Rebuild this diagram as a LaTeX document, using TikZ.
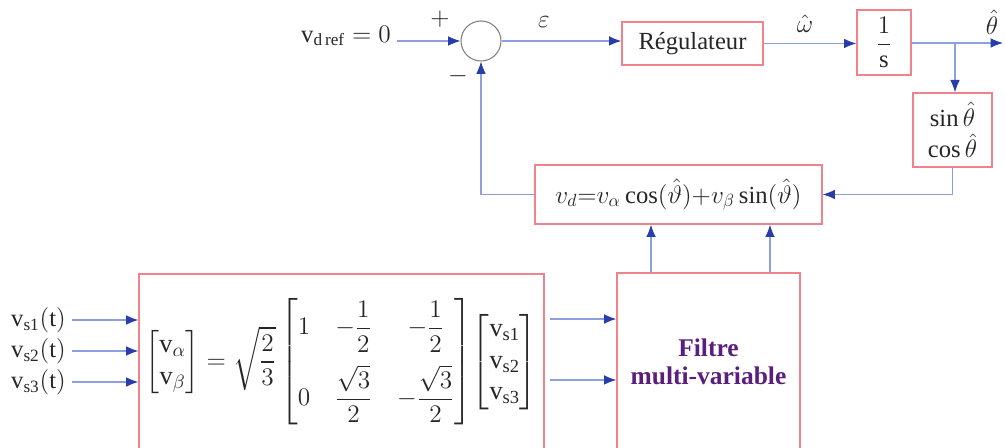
\documentclass[tikz,border=0pt]{standalone}
\usepackage{amsmath,amssymb}
\usepackage{fontspec}
\setmainfont{Liberation Serif}
\usepackage{tikz}
\usetikzlibrary{positioning, arrows.meta, calc}

\definecolor{boxred}{RGB}{240,130,140}
\definecolor{linkblue}{RGB}{140,160,225}
\definecolor{tipblue}{RGB}{40,60,170}
\definecolor{filtpurple}{RGB}{90,30,125}

\begin{document}
\begin{tikzpicture}[x=0.02cm, y=-0.02cm,
    every node/.style={font=\fontsize{14}{17}\selectfont, text=black!85},
    block/.style={draw=boxred, line width=0.8pt, rectangle, align=center, inner sep=2pt},
    flow/.style={draw=linkblue, line width=0.6pt, -{Latex[length=7pt, width=5.5pt, color=tipblue]}}]
            \useasboundingbox (0,0) rectangle (1005,448);
            \clip (0,0) rectangle (1005,448);
            
            % Loop on top
            \node (sum) at (481,41) [circle, draw=black!50, line width=0.6pt, minimum size=0.8cm] {};
            \node (vdref) at (346,36) {$\mathrm{v}_{\mathrm{d\,ref}} = 0$};
            \node (plus) at (440,19) {$+$};
            \node (minus) at (458,76) {$-$};
            \node (reg) at (692.5,43.5) [block, minimum width=2.82cm, minimum height=0.86cm] {Régulateur};
            \node (eps) at (544,22) {$\varepsilon$};
            \node (integ) at (884,42.5) [block, minimum width=1.08cm, minimum height=1.3cm] {$\dfrac{1}{\mathrm{s}}$};
            \node (omega) at (805,24) {$\hat{\omega}$};
            \node (theta) at (992,22) {$\hat{\theta}$};
            \node (trig) at (952.5,130) [block, minimum width=1.58cm, minimum height=1.48cm] {$\sin\hat{\theta}$\\[1pt]$\cos\hat{\theta}$};
            \coordinate (branch) at (955,43);
            \coordinate (thetaout) at (1003,43);
            
            \draw[flow] (vdref.east |- sum.west) -- (sum.west);
            \draw[flow] (sum.east) -- (sum.east -| reg.west);
            \draw[flow] (reg.east) -- (reg.east -| integ.west);
            \draw[flow] (integ.east |- thetaout) -- (thetaout);
            \draw[flow] (branch) -- (branch |- trig.north);
            
            % Demodulation
            \node (vd) at (678.5,194.5) [block, minimum width=5.74cm, minimum height=1.18cm] {$v_d{=}v_\alpha\cos(\hat{\vartheta}){+}v_\beta\sin(\hat{\vartheta})$};
            \draw[flow] (trig.south) |- (vd.east);
            \draw[flow] (vd.west) -| (sum.south);
            
            % Transformation and filter
            \node (mat) at (341.5,362) [block, minimum width=8.1cm, minimum height=3.52cm] {\fontsize{15}{18}\selectfont
                $\begin{bmatrix}\mathrm{v}_\alpha\\ \mathrm{v}_\beta\end{bmatrix}
                =\sqrt{\dfrac{2}{3}}
                \setlength{\arraycolsep}{7pt}
                \begin{bmatrix}1 & -\dfrac{1}{2} & -\dfrac{1}{2}\\[12pt] 0 & \dfrac{\sqrt{3}}{2} & -\dfrac{\sqrt{3}}{2}\end{bmatrix}
                \setlength{\arraycolsep}{5pt}
                \!\begin{bmatrix}\mathrm{v}_{\mathrm{s1}}\\ \mathrm{v}_{\mathrm{s2}}\\ \mathrm{v}_{\mathrm{s3}}\end{bmatrix}$};
            \node (filtre) at (708.5,362) [block, minimum width=3.66cm, minimum height=3.56cm, text=filtpurple, font=\fontsize{14.5}{16}\selectfont\bfseries] {Filtre\\multi-variable};
            
            \node (vs1) at (72,320) [anchor=east] {$\mathrm{v}_{\mathrm{s1}}(\mathrm{t})$};
            \node (vs2) at (72,351) [anchor=east] {$\mathrm{v}_{\mathrm{s2}}(\mathrm{t})$};
            \node (vs3) at (72,382) [anchor=east] {$\mathrm{v}_{\mathrm{s3}}(\mathrm{t})$};
            \foreach \v in {vs1, vs2, vs3}
                \draw[flow] (\v.east) -- (\v.east -| mat.west);
            
            \draw[flow] ([xshift=0.1cm, yshift=0.86cm]mat.east) -- ([yshift=0.86cm]filtre.west);
            \draw[flow] ([xshift=0.1cm, yshift=-0.36cm]mat.east) -- ([yshift=-0.36cm]filtre.west);
            \draw[flow] ([xshift=-1.15cm]filtre.north) -- ([xshift=-1.15cm]filtre.north |- vd.south);
            \draw[flow] ([xshift=1.23cm]filtre.north) -- ([xshift=1.23cm]filtre.north |- vd.south);
            
        \end{tikzpicture}
\end{document}
